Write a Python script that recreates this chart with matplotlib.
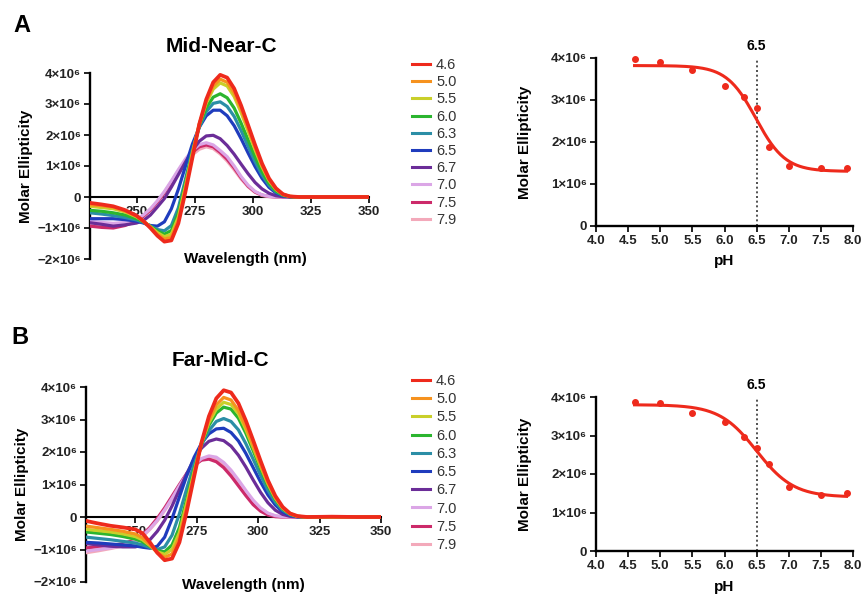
import numpy as np
import matplotlib
matplotlib.use("Agg")
import matplotlib.pyplot as plt
from matplotlib.lines import Line2D

plt.rcParams['font.family'] = ['Liberation Sans', 'DejaVu Sans']
plt.rcParams['font.weight'] = 'bold'

# ---------------- data ----------------
ph_labels = ['4.6', '5.0', '5.5', '6.0', '6.3', '6.5', '6.7', '7.0', '7.5', '7.9']
ph_values = [4.6, 5.0, 5.5, 6.0, 6.3, 6.5, 6.7, 7.0, 7.5, 7.9]
colors = ['#ee2a1c', '#f6921e', '#c9cf2a', '#2bb52f', '#2b8ea6',
          '#1f3cbd', '#6b2d98', '#dba6e6', '#cc2a6a', '#f3a9ba']

wavelength = [230, 235, 240, 245, 250, 253, 256, 259, 262, 265, 268, 271, 274, 277, 280,
              283, 286, 289, 292, 295, 298, 301, 304, 307, 310, 313, 316, 320, 330, 340, 350]

# Mid-Near-C spectra (x10^6)
a_46 = [-0.19, -0.24, -0.30, -0.42, -0.60, -0.78, -1.00, -1.25, -1.44, -1.40, -0.85, 0.15, 1.25, 2.35, 3.15,
        3.70, 3.94, 3.85, 3.50, 2.95, 2.32, 1.68, 1.08, 0.60, 0.28, 0.09, 0.02, 0.0, 0.0, 0.0, 0.0]
a_50 = [-0.25, -0.28, -0.33, -0.45, -0.62, -0.78, -0.98, -1.20, -1.36, -1.30, -0.75, 0.25, 1.35, 2.35, 3.08,
        3.58, 3.80, 3.70, 3.36, 2.83, 2.22, 1.60, 1.02, 0.56, 0.26, 0.08, 0.02, 0.0, 0.0, 0.0, 0.0]
a_55 = [-0.30, -0.34, -0.38, -0.48, -0.64, -0.78, -0.96, -1.15, -1.28, -1.20, -0.65, 0.33, 1.40, 2.35, 3.03,
        3.48, 3.68, 3.58, 3.24, 2.72, 2.12, 1.52, 0.97, 0.53, 0.24, 0.08, 0.02, 0.0, 0.0, 0.0, 0.0]
a_60 = [-0.43, -0.46, -0.51, -0.58, -0.70, -0.80, -0.95, -1.10, -1.20, -1.08, -0.52, 0.42, 1.42, 2.30, 2.88,
        3.22, 3.33, 3.20, 2.87, 2.38, 1.84, 1.30, 0.82, 0.44, 0.19, 0.06, 0.01, 0.0, 0.0, 0.0, 0.0]
a_63 = [-0.51, -0.55, -0.60, -0.66, -0.74, -0.82, -0.94, -1.05, -1.09, -0.92, -0.35, 0.55, 1.50, 2.25, 2.75,
        3.02, 3.07, 2.92, 2.60, 2.14, 1.63, 1.14, 0.71, 0.38, 0.16, 0.05, 0.01, 0.0, 0.0, 0.0, 0.0]
a_65 = [-0.70, -0.70, -0.70, -0.73, -0.78, -0.84, -0.92, -0.94, -0.80, -0.38, 0.25, 0.98, 1.70, 2.25, 2.62,
        2.80, 2.80, 2.62, 2.30, 1.88, 1.42, 0.98, 0.60, 0.31, 0.13, 0.04, 0.01, 0.0, 0.0, 0.0, 0.0]
a_67 = [-0.83, -0.88, -0.94, -0.90, -0.84, -0.76, -0.58, -0.32, -0.05, 0.32, 0.72, 1.12, 1.50, 1.80, 1.97,
        1.99, 1.88, 1.66, 1.38, 1.06, 0.75, 0.47, 0.26, 0.12, 0.04, 0.01, 0.0, 0.0, 0.0, 0.0, 0.0]
a_70 = [-0.78, -0.82, -0.85, -0.82, -0.72, -0.58, -0.38, -0.12, 0.18, 0.52, 0.88, 1.22, 1.50, 1.69, 1.75,
        1.68, 1.50, 1.30, 1.00, 0.66, 0.38, 0.18, 0.07, 0.02, 0.0, 0.0, 0.0, 0.0, 0.0, 0.0, 0.0]
a_75 = [-0.94, -0.98, -1.00, -0.92, -0.78, -0.62, -0.42, -0.16, 0.14, 0.48, 0.84, 1.17, 1.44, 1.62, 1.68,
        1.62, 1.44, 1.22, 0.94, 0.62, 0.35, 0.16, 0.06, 0.02, 0.0, 0.0, 0.0, 0.0, 0.0, 0.0, 0.0]
a_79 = [-0.88, -0.92, -0.93, -0.86, -0.74, -0.60, -0.40, -0.15, 0.14, 0.46, 0.80, 1.10, 1.36, 1.54, 1.62,
        1.56, 1.39, 1.16, 0.88, 0.58, 0.33, 0.15, 0.05, 0.01, 0.0, 0.0, 0.0, 0.0, 0.0, 0.0, 0.0]

# Far-Mid-C spectra (x10^6)
b_46 = [-0.12, -0.20, -0.27, -0.32, -0.38, -0.50, -0.78, -1.10, -1.33, -1.28, -0.78, 0.18, 1.25, 2.30, 3.10,
        3.65, 3.90, 3.83, 3.50, 2.97, 2.36, 1.73, 1.13, 0.65, 0.31, 0.11, 0.03, 0.0, 0.01, 0.0, 0.0]
b_50 = [-0.28, -0.33, -0.38, -0.44, -0.52, -0.64, -0.86, -1.10, -1.24, -1.14, -0.62, 0.32, 1.32, 2.28, 2.98,
        3.45, 3.68, 3.60, 3.28, 2.78, 2.20, 1.61, 1.05, 0.60, 0.28, 0.10, 0.02, 0.0, 0.0, 0.0, 0.0]
b_55 = [-0.38, -0.42, -0.46, -0.52, -0.60, -0.70, -0.88, -1.07, -1.15, -1.00, -0.48, 0.44, 1.40, 2.28, 2.90,
        3.32, 3.53, 3.46, 3.18, 2.70, 2.14, 1.56, 1.02, 0.58, 0.27, 0.10, 0.02, 0.0, 0.0, 0.0, 0.0]
b_60 = [-0.46, -0.50, -0.54, -0.60, -0.68, -0.76, -0.90, -1.04, -1.07, -0.86, -0.32, 0.56, 1.46, 2.24, 2.82,
        3.20, 3.38, 3.32, 3.04, 2.58, 2.04, 1.48, 0.96, 0.54, 0.25, 0.09, 0.02, 0.0, 0.0, 0.0, 0.0]
b_63 = [-0.62, -0.66, -0.70, -0.75, -0.80, -0.86, -0.94, -1.00, -0.92, -0.56, 0.10, 0.88, 1.62, 2.22, 2.66,
        2.94, 3.03, 2.94, 2.68, 2.26, 1.78, 1.28, 0.82, 0.46, 0.21, 0.07, 0.01, 0.0, 0.0, 0.0, 0.0]
b_65 = [-0.78, -0.80, -0.83, -0.86, -0.89, -0.93, -0.96, -0.90, -0.62, -0.05, 0.62, 1.28, 1.84, 2.27, 2.56,
        2.71, 2.73, 2.60, 2.34, 1.96, 1.52, 1.08, 0.68, 0.37, 0.16, 0.05, 0.01, 0.0, 0.0, 0.0, 0.0]
b_67 = [-0.82, -0.86, -0.90, -0.92, -0.92, -0.86, -0.70, -0.44, -0.10, 0.34, 0.84, 1.34, 1.78, 2.12, 2.33,
        2.40, 2.35, 2.18, 1.90, 1.54, 1.14, 0.76, 0.44, 0.21, 0.08, 0.02, 0.0, 0.0, 0.0, 0.0, 0.0]
b_70 = [-1.05, -1.00, -0.95, -0.88, -0.74, -0.58, -0.36, -0.10, 0.22, 0.58, 0.96, 1.32, 1.60, 1.80, 1.88,
        1.84, 1.68, 1.44, 1.14, 0.82, 0.52, 0.28, 0.12, 0.04, 0.01, 0.0, 0.0, 0.0, 0.0, 0.0, 0.0]
b_75 = [-0.95, -0.92, -0.88, -0.82, -0.70, -0.54, -0.32, -0.04, 0.28, 0.64, 1.00, 1.34, 1.60, 1.75, 1.78,
        1.70, 1.52, 1.26, 0.96, 0.66, 0.38, 0.18, 0.06, 0.01, 0.0, 0.0, 0.0, 0.0, 0.0, 0.0, 0.0]
b_79 = [-1.10, -1.04, -0.97, -0.89, -0.76, -0.60, -0.38, -0.12, 0.20, 0.55, 0.92, 1.28, 1.56, 1.76, 1.83,
        1.78, 1.62, 1.38, 1.08, 0.78, 0.48, 0.26, 0.11, 0.03, 0.0, 0.0, 0.0, 0.0, 0.0, 0.0, 0.0]

spectra_a = [a_46, a_50, a_55, a_60, a_63, a_65, a_67, a_70, a_75, a_79]
spectra_b = [b_46, b_50, b_55, b_60, b_63, b_65, b_67, b_70, b_75, b_79]

# pH titration points (x10^6)
titr_a = [3.97, 3.91, 3.71, 3.34, 3.08, 2.80, 1.89, 1.43, 1.37, 1.39]
titr_b = [3.86, 3.84, 3.59, 3.36, 2.97, 2.67, 2.26, 1.67, 1.45, 1.50]
# fitted sigmoid parameters: top, bottom, pH50, hill slope
fit_a = (3.82, 1.30, 6.49, 1.9)
fit_b = (3.80, 1.40, 6.50, 1.5)
transition_ph = 6.5

ytick_vals = [-2, -1, 0, 1, 2, 3, 4]
ytick_text = ['\u22122\u00d710\u2076', '\u22121\u00d710\u2076', '0', '1\u00d710\u2076',
              '2\u00d710\u2076', '3\u00d710\u2076', '4\u00d710\u2076']
xticks_wl = [250, 275, 300, 325, 350]
xticks_ph = [4.0, 4.5, 5.0, 5.5, 6.0, 6.5, 7.0, 7.5, 8.0]

W, H = 861, 599
fig = plt.figure(figsize=(W / 100, H / 100), dpi=100)


def frac(l, t, r, b):
    return [l / W, 1 - b / H, (r - l) / W, (b - t) / H]


TICKFS = 9.5
LABFS = 11


def spectrum_panel(rect, spectra, title, letter, letter_xy, title_xy, leg_xy, leg_sp, xlabel_xy):
    ax = fig.add_axes(frac(*rect))
    handles = []
    for i in range(len(spectra) - 1, -1, -1):
        ax.plot(wavelength, np.array(spectra[i]) * 1e6, color=colors[i], lw=2.3 if i else 2.7,
                solid_capstyle='round', solid_joinstyle='round', zorder=3 + (10 - i))
    for i in range(len(spectra)):
        handles.append(Line2D([], [], color=colors[i], lw=2.2))
    ax.set_xlim(230, 350)
    ax.set_ylim(-2e6, 4e6)
    for s in ['top', 'right']:
        ax.spines[s].set_visible(False)
    ax.spines['bottom'].set_position(('data', 0))
    ax.spines['left'].set_linewidth(1.7)
    ax.spines['bottom'].set_linewidth(1.5)
    ax.spines['bottom'].set_zorder(2)
    ax.set_yticks([v * 1e6 for v in ytick_vals])
    ax.set_yticklabels(ytick_text, fontsize=TICKFS, fontweight='bold')
    ax.set_xticks(xticks_wl)
    ax.set_xticklabels([str(v) for v in xticks_wl], fontsize=TICKFS, fontweight='bold')
    ax.tick_params(axis='both', length=4.5, width=1.4, direction='out', pad=2, colors='#222222')
    ax.patch.set_alpha(0)
    ax.set_ylabel('Molar Ellipticity', fontsize=LABFS, fontweight='bold', labelpad=3)
    fig.text(title_xy[0] / W, 1 - title_xy[1] / H, title, ha='center', va='center',
             fontsize=15, fontweight='bold')
    fig.text(letter_xy[0] / W, 1 - letter_xy[1] / H, letter, ha='center', va='center',
             fontsize=17, fontweight='bold')
    fig.text(xlabel_xy[0] / W, 1 - xlabel_xy[1] / H, 'Wavelength (nm)', ha='center', va='center',
             fontsize=LABFS, fontweight='bold')
    leg = ax.legend(handles, ph_labels, loc='upper left',
                    bbox_to_anchor=(leg_xy[0] / W, 1 - leg_xy[1] / H),
                    bbox_transform=fig.transFigure, frameon=False, fontsize=10.5,
                    handlelength=1.25, handletextpad=0.4, labelspacing=leg_sp,
                    borderpad=0, borderaxespad=0)
    for t in leg.get_texts():
        t.set_fontweight('normal')
        t.set_color('#333333')
    return ax


def titration_panel(rect, vals, fit, xlabel_y):
    ax = fig.add_axes(frac(*rect))
    top, bottom, mid, slope = fit
    xs = np.linspace(min(ph_values), max(ph_values), 200)
    ys = bottom + (top - bottom) / (1 + 10 ** ((xs - mid) * slope))
    ax.plot(xs, ys * 1e6, color='#ee2a1c', lw=2.2, zorder=3)
    ax.plot(ph_values, np.array(vals) * 1e6, 'o', color='#ee2a1c', ms=4.0, zorder=4)
    ax.plot([transition_ph, transition_ph], [0, 4e6], color='#333333', lw=1.2,
            ls=(0, (1.2, 1.6)), zorder=2)
    ax.text(transition_ph, 4.12e6, '6.5', ha='center', va='bottom', fontsize=10, fontweight='bold')
    ax.set_xlim(4.0, 8.0)
    ax.set_ylim(0, 4e6)
    for s in ['top', 'right']:
        ax.spines[s].set_visible(False)
    ax.spines['left'].set_linewidth(1.7)
    ax.spines['bottom'].set_linewidth(1.7)
    ax.set_yticks([v * 1e6 for v in [0, 1, 2, 3, 4]])
    ax.set_yticklabels(['0', '1\u00d710\u2076', '2\u00d710\u2076', '3\u00d710\u2076', '4\u00d710\u2076'],
                       fontsize=TICKFS, fontweight='bold')
    ax.set_xticks(xticks_ph)
    ax.set_xticklabels(['%.1f' % v for v in xticks_ph], fontsize=TICKFS, fontweight='bold')
    ax.tick_params(axis='both', length=4.5, width=1.4, direction='out', pad=2, colors='#222222')
    ax.set_ylabel('Molar Ellipticity', fontsize=LABFS, fontweight='bold', labelpad=14)
    fig.text((rect[0] + rect[2]) / 2 / W, 1 - xlabel_y / H, 'pH', ha='center', va='center',
             fontsize=LABFS, fontweight='bold')
    for ln in ax.lines:
        ln.set_clip_on(False)
    return ax


spectrum_panel((90, 73, 369, 259), spectra_a, 'Mid-Near-C', 'A', (22, 25), (221, 47),
               (412, 58), 0.22, (245, 259))
spectrum_panel((86, 387, 381, 582), spectra_b, 'Far-Mid-C', 'B', (20, 338), (220, 360),
               (412, 374), 0.29, (243, 585))
titration_panel((596, 58, 853, 226), titr_a, fit_a, 261)
titration_panel((596, 397, 853, 551), titr_b, fit_b, 587)

fig.savefig('out.png', dpi=100)
